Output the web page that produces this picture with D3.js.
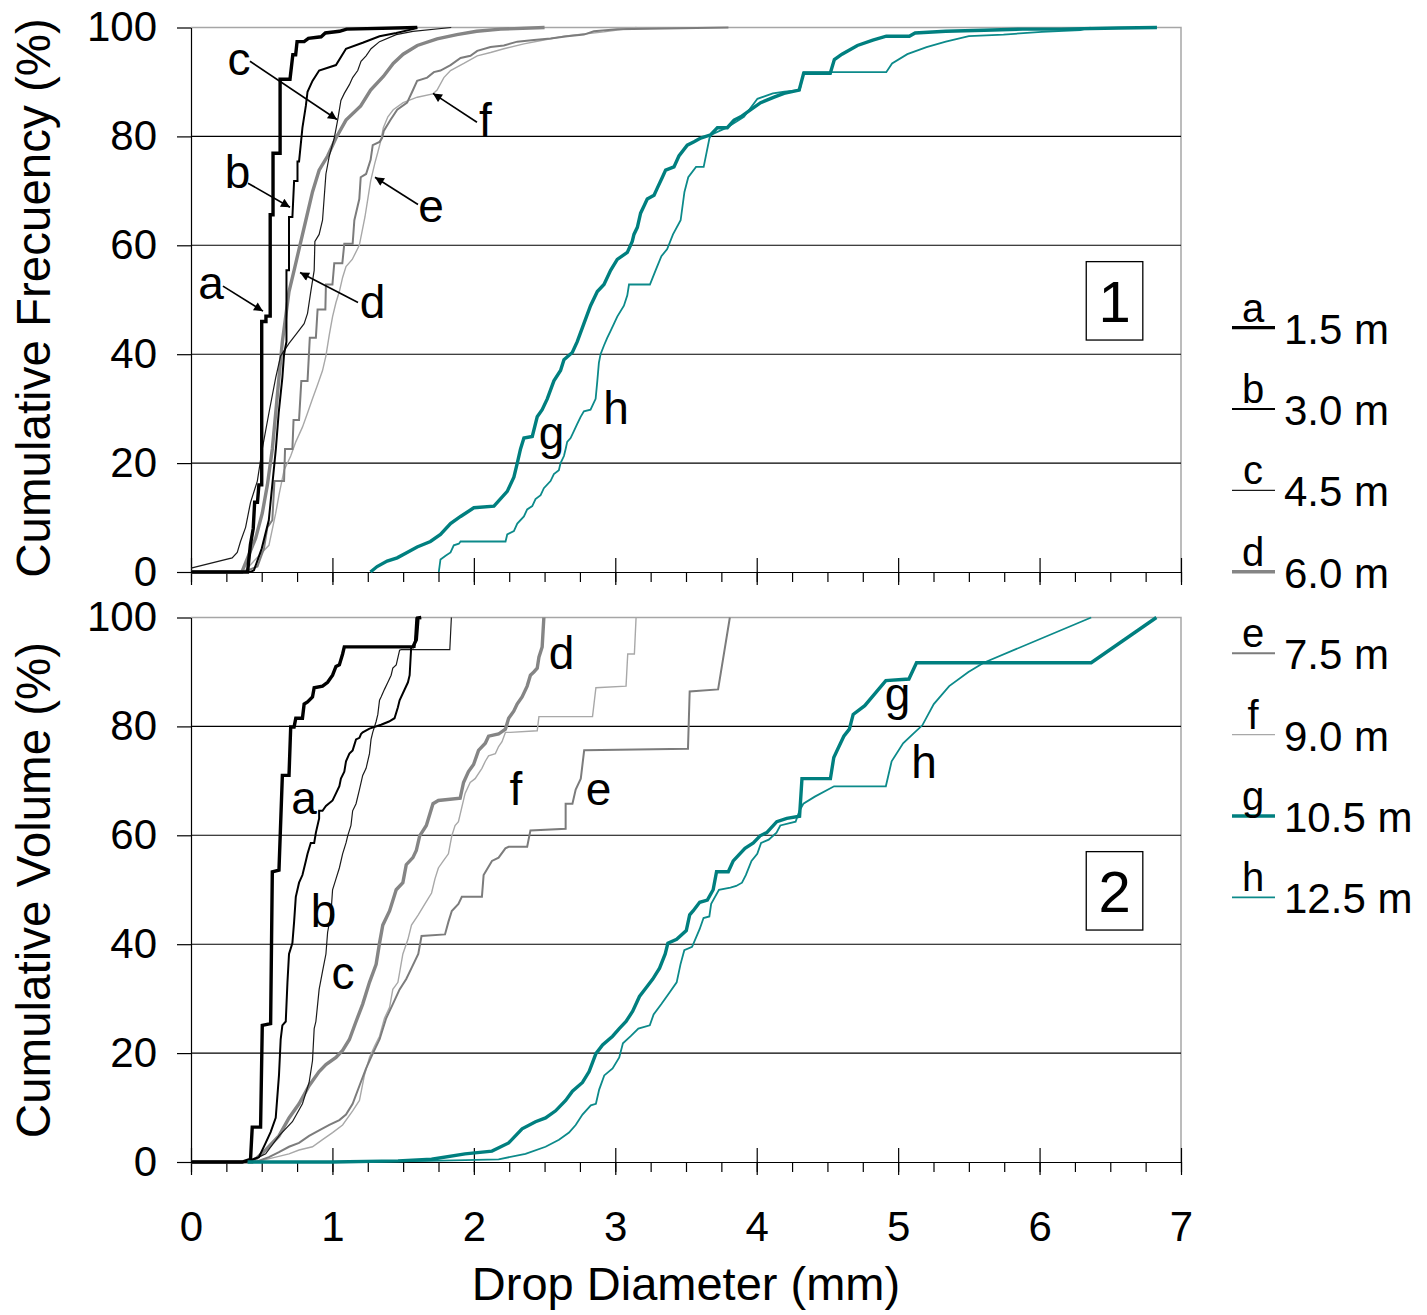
<!DOCTYPE html>
<html><head><meta charset="utf-8">
<script src="https://cdn.jsdelivr.net/npm/d3@7"></script>
<style>html,body{margin:0;padding:0;background:#fff}</style>
</head><body>
<svg id="chart" width="1427" height="1315"></svg>
<script>
// ---------- DATA ----------
const seriesKeys = ["a","b","c","d","e","f","g","h"];
const heightLabels = ["1.5 m","3.0 m","4.5 m","6.0 m","7.5 m","9.0 m","10.5 m","12.5 m"];
const xTicks = [0,1,2,3,4,5,6,7];
const xMinorTicks = d3.range(0, 7.01, 0.25);
const yTicks = [0,20,40,60,80,100];
const panelTitles = ["Cumulative Frecuency (%)","Cumulative Volume (%)"];
const xTitle = "Drop Diameter (mm)";
const panelNumbers = ["1","2"];

// Panel 1: cumulative frequency  [diameter mm, %]
const freqA = [[0,0],[0.40,0],[0.42,5],[0.44,8],[0.45,12.8],[0.47,12.8],[0.48,16],[0.50,16],[0.50,46],[0.53,46],[0.53,47],[0.56,47],[0.56,65.6],[0.58,65.6],[0.58,76.9],[0.63,76.9],[0.63,90.5],[0.70,90.5],[0.72,95],[0.74,95],[0.75,97.4],[0.80,97.4],[0.83,98],[0.92,98.3],[0.95,99],[1.05,99.3],[1.1,99.7],[1.6,100]];
const freqB = [[0,0],[0.42,0],[0.445,0.3],[0.50,4.3],[0.55,9.5],[0.60,22.6],[0.62,29.2],[0.646,35.7],[0.658,40],[0.675,42.3],[0.675,55.4],[0.693,55.4],[0.693,65.2],[0.717,65.2],[0.729,71.8],[0.753,71.8],[0.753,75.4],[0.764,75.4],[0.788,81.6],[0.812,85.6],[0.824,88.2],[0.859,90.2],[0.906,92.1],[1.025,93.1],[1.096,96.1],[1.214,97.2],[1.333,98.4],[1.451,99],[1.569,99.7],[1.6,100]];
const freqC = [[0,0.7],[0.291,2.6],[0.327,3.6],[0.35,5.6],[0.386,8.2],[0.421,12.8],[0.469,16.7],[0.504,22.6],[0.551,29.2],[0.599,35.7],[0.634,39.7],[0.693,42],[0.741,43.6],[0.80,45.6],[0.824,47.5],[0.847,51.5],[0.871,55.4],[0.876,60.7],[0.906,62],[0.93,64.6],[0.954,73.1],[0.978,76.4],[1.013,79.7],[1.037,83],[1.06,86.6],[1.084,87.9],[1.12,89.5],[1.143,90.8],[1.179,92.1],[1.202,93.8],[1.238,94.8],[1.273,96.1],[1.333,97.4],[1.451,98.7],[1.569,99.3],[1.84,100]];
const freqD = [[0,0],[0.36,0],[0.457,6.2],[0.504,10.8],[0.54,16],[0.575,22.6],[0.599,29.2],[0.622,35.7],[0.646,42.3],[0.693,51.5],[0.729,55.4],[0.764,59.3],[0.812,64.6],[0.859,69.8],[0.906,73.8],[0.966,76.4],[1.025,79.7],[1.096,83],[1.2,85.6],[1.27,88.5],[1.36,91],[1.43,93.4],[1.5,95.1],[1.6,96.7],[1.74,97.9],[1.88,98.7],[2.02,99.3],[2.19,99.7],[2.5,100]];
const freqE = [[0,0],[0.374,0],[0.47,1],[0.516,4.3],[0.54,8.2],[0.575,9.5],[0.59,16.7],[0.658,16.7],[0.665,22.6],[0.717,22.6],[0.725,27.9],[0.764,27.9],[0.78,35.1],[0.824,35.1],[0.84,43],[0.883,43],[0.895,48.2],[0.95,48.2],[0.954,52.8],[1.0,52.8],[1.013,56.7],[1.07,56.7],[1.084,60.3],[1.143,60.3],[1.155,64.6],[1.19,68.5],[1.20,72.5],[1.238,73.1],[1.27,75.7],[1.285,78.4],[1.333,79],[1.351,79.7],[1.363,81],[1.41,83],[1.458,84.9],[1.528,86.2],[1.564,88.2],[1.599,90.2],[1.67,90.8],[1.717,91.8],[1.764,92.1],[1.835,93.1],[1.906,94.4],[1.976,94.8],[2.024,95.7],[2.118,96.4],[2.212,96.7],[2.307,97.4],[2.425,97.7],[2.542,98],[2.66,98.4],[2.778,98.7],[2.849,99.3],[3.014,99.7],[3.8,100]];
const freqF = [[0,0],[0.374,0],[0.48,3],[0.551,4.9],[0.599,10.8],[0.622,14.1],[0.658,18.7],[0.705,21.3],[0.741,23.9],[0.788,26.6],[0.824,29.2],[0.859,31.8],[0.895,34.4],[0.93,37],[0.954,39.7],[0.978,43.6],[1.001,46.9],[1.025,49.5],[1.049,51.5],[1.072,54.1],[1.096,56.1],[1.14,57.4],[1.19,60],[1.21,62.6],[1.23,65.2],[1.25,68.5],[1.27,71.8],[1.3,75.1],[1.32,77],[1.34,79],[1.36,81.6],[1.392,83.6],[1.43,84.9],[1.5,86.2],[1.6,87.2],[1.71,87.8],[1.74,88.5],[1.788,90.8],[1.835,92.1],[1.929,93.4],[2.024,94.8],[2.118,95.4],[2.212,96.1],[2.354,97],[2.495,97.7],[2.637,98.4],[2.778,98.8],[2.92,99.2],[3.15,100]];
const freqG = [[1.269,0],[1.316,1],[1.387,2],[1.458,2.6],[1.528,3.6],[1.599,4.6],[1.693,5.6],[1.764,6.9],[1.835,8.9],[1.906,10.2],[2.0,11.8],[2.142,12.1],[2.236,14.8],[2.283,17.4],[2.307,20],[2.33,22.6],[2.354,24.6],[2.413,24.9],[2.448,28.5],[2.483,29.8],[2.519,31.8],[2.566,35.1],[2.613,37],[2.637,39],[2.696,40.3],[2.731,42.3],[2.778,45.6],[2.825,48.9],[2.873,51.5],[2.92,52.8],[2.967,55.4],[3.014,57.4],[3.085,58.7],[3.12,60.7],[3.132,62],[3.156,63.3],[3.179,65.9],[3.203,67.2],[3.226,68.5],[3.274,69.2],[3.297,70.5],[3.333,72.5],[3.356,73.8],[3.415,74.4],[3.45,76.4],[3.509,78.4],[3.557,79],[3.604,79.7],[3.675,80.3],[3.722,81.6],[3.792,81.6],[3.84,83],[3.887,83.6],[3.958,84.9],[4.028,86.2],[4.123,87.2],[4.193,87.9],[4.3,88.5],[4.332,91.6],[4.52,91.6],[4.549,94.1],[4.603,95.1],[4.712,96.7],[4.821,97.7],[4.916,98.4],[5.079,98.4],[5.12,99],[5.337,99.3],[5.609,99.5],[5.88,99.7],[6.152,99.7],[6.56,99.9],[6.83,100]];
const freqH = [[1.752,0],[1.764,2.3],[1.80,3],[1.835,3.6],[1.858,4.9],[1.894,5.2],[1.906,5.6],[2.224,5.6],[2.236,6.9],[2.283,7.5],[2.307,8.9],[2.354,10.2],[2.377,11.5],[2.413,12.1],[2.436,13.4],[2.472,14.1],[2.495,15.4],[2.542,16.7],[2.566,18],[2.601,18.7],[2.613,20],[2.637,21.3],[2.649,22.6],[2.66,23.9],[2.684,24.6],[2.708,25.9],[2.731,27.2],[2.755,28.5],[2.778,29.5],[2.825,29.8],[2.861,31.8],[2.873,35.1],[2.884,38.4],[2.896,40],[2.92,41.6],[2.943,43],[2.967,44.3],[2.991,45.6],[3.014,46.9],[3.061,48.9],[3.085,50.8],[3.097,52.8],[3.245,52.8],[3.285,55.4],[3.326,58],[3.367,59.3],[3.408,62],[3.462,64.6],[3.489,69.8],[3.516,72.5],[3.571,74.4],[3.625,74.4],[3.666,79.7],[3.679,80.3],[3.788,81.6],[3.91,83.6],[4.005,86.9],[4.114,87.9],[4.196,88.2],[4.304,88.5],[4.332,91.8],[4.916,91.8],[4.957,93.4],[5.065,95.1],[5.201,96.4],[5.337,97.4],[5.5,98.4],[5.745,98.7],[6.016,99.2],[6.288,99.5],[6.36,100]];

// Panel 2: cumulative volume  [diameter mm, %]
const volA = [[0,0],[0.362,0],[0.421,0.5],[0.433,6.4],[0.492,6.4],[0.504,25.1],[0.563,25.4],[0.575,53.3],[0.622,53.6],[0.646,71],[0.693,71],[0.705,79.9],[0.729,79.9],[0.741,81.5],[0.788,81.5],[0.80,84.1],[0.824,84.5],[0.859,85.4],[0.871,87.1],[0.93,87.4],[0.966,88.1],[1.001,89.4],[1.025,91],[1.049,91.3],[1.072,93.3],[1.084,94.6],[1.569,94.6],[1.593,95.9],[1.605,99.9],[1.628,100]];
const volB = [[0,0],[0.386,0],[0.48,0.9],[0.528,3.5],[0.563,5.5],[0.599,8.1],[0.622,15.9],[0.634,22.5],[0.646,25.1],[0.67,25.8],[0.682,33],[0.693,38.2],[0.717,40.2],[0.729,44.1],[0.741,48.7],[0.764,51.3],[0.788,52.7],[0.812,55.3],[0.824,56.6],[0.847,58.6],[0.871,58.6],[0.883,60.5],[0.906,63.1],[0.906,64.5],[0.93,64.5],[0.954,65.4],[1.001,66.4],[1.025,67.7],[1.049,69],[1.06,70.4],[1.084,71.7],[1.096,73.6],[1.12,75],[1.143,75.6],[1.155,76.6],[1.167,77.6],[1.191,77.9],[1.202,78.6],[1.214,78.9],[1.262,79.6],[1.333,80.2],[1.344,80.3],[1.40,80.9],[1.439,81.5],[1.463,83.5],[1.475,84.8],[1.534,88.1],[1.546,89.4],[1.557,94.6],[1.581,94.6],[1.593,99.9],[1.60,100]];
const volC = [[0,0],[0.409,0],[0.528,1.5],[0.622,4.8],[0.717,7.4],[0.788,10.7],[0.835,14.6],[0.859,18.6],[0.871,24.5],[0.883,25.8],[0.906,31.7],[0.93,35],[0.954,38.2],[0.966,42.2],[0.989,45.4],[1.001,50],[1.025,52],[1.049,54],[1.072,56.6],[1.096,58.6],[1.108,59.9],[1.131,61.8],[1.143,64.5],[1.167,65.8],[1.191,68.4],[1.214,71],[1.238,72.3],[1.262,75],[1.273,77.6],[1.285,78.9],[1.309,80.9],[1.321,82.2],[1.333,84.8],[1.344,85.4],[1.368,86.8],[1.392,88.1],[1.415,89.4],[1.427,90.7],[1.451,91.3],[1.475,94],[1.486,94.1],[1.83,94.1],[1.841,100]];
const volD = [[0,0],[0.433,0],[0.528,2.2],[0.622,4.8],[0.693,8.1],[0.764,10.7],[0.835,14],[0.906,16.6],[0.954,17.9],[1.025,19.2],[1.072,20.5],[1.12,22.5],[1.167,25.8],[1.214,29],[1.262,33],[1.309,36.3],[1.333,40.2],[1.356,43.5],[1.404,46.1],[1.451,50],[1.498,51.3],[1.522,54.6],[1.569,55.9],[1.593,57.2],[1.617,59.9],[1.664,61.8],[1.711,65.8],[1.749,66.4],[1.903,66.8],[1.927,69.7],[1.962,71.7],[1.998,73],[2.033,75.6],[2.081,76.9],[2.104,78.2],[2.175,78.6],[2.223,79.5],[2.246,81.5],[2.282,82.8],[2.306,84.1],[2.341,85.4],[2.377,87.4],[2.40,89.4],[2.424,90],[2.448,90.7],[2.46,92.7],[2.483,94.6],[2.495,100]];
const volE = [[0,0],[0.457,0],[0.551,0.9],[0.622,1.8],[0.693,2.8],[0.764,3.5],[0.835,4.8],[0.906,5.8],[0.978,6.8],[1.049,7.7],[1.096,8.7],[1.143,10.7],[1.191,14],[1.238,17.2],[1.285,19.9],[1.333,22.5],[1.38,26.4],[1.427,29],[1.475,31.7],[1.522,33.6],[1.559,35.6],[1.607,38.2],[1.63,41.5],[1.796,41.8],[1.82,44.1],[1.844,46.1],[1.891,47.4],[1.915,48.7],[2.057,48.7],[2.069,52.7],[2.128,55.3],[2.175,55.9],[2.223,57.6],[2.246,57.9],[2.377,57.9],[2.40,60.9],[2.649,61.2],[2.649,65.8],[2.697,65.8],[2.72,68.4],[2.756,70.4],[2.78,75.6],[3.514,75.9],[3.526,86.4],[3.727,86.8],[3.81,100]];
const volF = [[0,0],[0.457,0],[0.599,0.9],[0.693,1.5],[0.764,2.2],[0.859,2.8],[0.93,4.1],[1.001,5.4],[1.072,6.8],[1.143,9.4],[1.191,11.3],[1.226,15.9],[1.262,19.2],[1.297,21.2],[1.333,23.1],[1.368,26.4],[1.404,28.4],[1.427,31.7],[1.463,33],[1.498,38.2],[1.534,40.9],[1.559,43.5],[1.607,45.4],[1.654,47.4],[1.701,49.4],[1.725,52],[1.749,54],[1.784,55.3],[1.82,56.6],[1.844,59.9],[1.867,61.8],[1.891,62.5],[1.938,67.7],[1.974,69.7],[2.009,70.4],[2.057,72.3],[2.081,73.6],[2.104,74.6],[2.152,75],[2.175,76.3],[2.199,77.2],[2.223,78.9],[2.258,78.9],[2.448,79.2],[2.46,81.8],[2.839,81.8],[2.863,87.1],[3.076,87.4],[3.088,93.3],[3.135,93.3],[3.147,100]];
const volG = [[0.40,0],[1.0,0],[1.464,0.2],[1.701,0.5],[1.938,1.5],[2.128,2],[2.246,3.5],[2.341,6.1],[2.436,7.4],[2.507,8.1],[2.578,9.4],[2.649,11.3],[2.697,13],[2.768,14.6],[2.815,16.6],[2.863,19.9],[2.91,21.5],[2.981,23.1],[3.028,24.5],[3.076,25.8],[3.123,27.7],[3.171,30.4],[3.218,32],[3.265,33.6],[3.313,35.6],[3.353,38.2],[3.372,40.2],[3.434,40.9],[3.502,42.5],[3.526,45.4],[3.55,46.1],[3.597,47.7],[3.651,48.1],[3.692,50],[3.716,53.3],[3.799,53.3],[3.834,55.3],[3.917,57.6],[3.976,58.6],[4.024,59.9],[4.071,60.5],[4.142,62.5],[4.213,63.1],[4.303,63.5],[4.32,70.4],[4.521,70.4],[4.545,74.3],[4.569,75.6],[4.616,78.2],[4.655,79.5],[4.682,82.2],[4.764,83.8],[4.913,88.4],[5.076,88.7],[5.13,91.7],[6.365,91.7],[6.826,100]];
const volH = [[1.0,0],[1.701,0.2],[2.175,0.5],[2.365,1.5],[2.507,2.8],[2.602,4.1],[2.673,5.4],[2.72,6.8],[2.768,8.7],[2.827,10.4],[2.863,10.7],[2.886,13.3],[2.922,15.9],[2.981,17.2],[3.028,19.2],[3.054,21.8],[3.109,23.1],[3.163,24.5],[3.244,25.1],[3.271,27.1],[3.326,29],[3.38,31],[3.434,33],[3.461,36.3],[3.488,38.9],[3.543,39.5],[3.597,42.8],[3.624,44.8],[3.665,45.1],[3.678,47.4],[3.733,50],[3.814,50.4],[3.855,50.7],[3.896,51.3],[3.923,52.7],[3.963,55.3],[4.004,56.6],[4.031,58.6],[4.085,59.2],[4.14,60.5],[4.167,61.8],[4.275,62.5],[4.302,64.5],[4.33,65.8],[4.411,67.1],[4.547,69],[4.913,69],[4.954,73.6],[5.035,76.9],[5.117,78.9],[5.171,80.2],[5.252,84.1],[5.361,87.4],[5.497,90],[5.605,91.7],[6.365,100]];

const freqSeries = [freqA,freqB,freqC,freqD,freqE,freqF,freqG,freqH];
const volSeries  = [volA,volB,volC,volD,volE,volF,volG,volH];

// ---------- STYLES / LAYOUT ----------
const FONT = "'Liberation Sans', Arial, Helvetica, sans-serif";
const styles = {
  a:{c:"#000000", w:3.4}, b:{c:"#000000", w:2.0}, c:{c:"#1a1a1a", w:1.2},
  d:{c:"#858585", w:3.4}, e:{c:"#7c7c7c", w:2.0}, f:{c:"#a8a8a8", w:1.4},
  g:{c:"#007f7f", w:3.4}, h:{c:"#0c8a8a", w:1.8}
};
const drawOrder = ["f","e","d","c","b","a","h","g"];

const svg = d3.select("#chart");
const x = d3.scaleLinear().domain([0,7]).range([191,1181]);
const panels = [
  {y: d3.scaleLinear().domain([0,100]).range([572,27.5]), data: freqSeries, title: panelTitles[0], num: panelNumbers[0], titleY: 298},
  {y: d3.scaleLinear().domain([0,100]).range([1162,617.5]), data: volSeries, title: panelTitles[1], num: panelNumbers[1], titleY: 890}
];

// annotations [letter, textX(mm), baselineY(%), arrowFrom, arrowTo]
const annTop = [
  ["a",0.141,50.1,[0.226,52.5],[0.509,47.9]],
  ["b",0.329,70.5,[0.403,71.4],[0.70,67]],
  ["c",0.339,91.2,[0.417,93.8],[1.032,83.1]],
  ["d",1.283,46.6,[1.181,49.5],[0.771,55]],
  ["e",1.697,64.2,[1.605,67.5],[1.301,72.5]],
  ["f",2.082,80.0,[2.022,82.6],[1.711,87.9]],
  ["g",2.549,22.6,null,null],
  ["h",3.005,27.2,null,null]
];
const annBot = [
  ["a",0.799,63.9,null,null],
  ["b",0.937,43.1,null,null],
  ["c",1.075,31.7,null,null],
  ["d",2.62,90.6,null,null],
  ["f",2.298,65.5,null,null],
  ["e",2.881,65.5,null,null],
  ["g",4.995,83.1,null,null],
  ["h",5.183,70.6,null,null]
];

const defs = svg.append("defs");
defs.append("marker").attr("id","arr").attr("viewBox","0 0 10 10").attr("refX",10).attr("refY",5)
  .attr("markerWidth",11).attr("markerHeight",9).attr("markerUnits","userSpaceOnUse").attr("orient","auto")
  .append("path").attr("d","M0,0 L10,5 L0,10 Z").attr("fill","#000");

panels.forEach((p, pi) => {
  const y = p.y;
  const g = svg.append("g");
  const clipId = "clip"+pi;
  defs.append("clipPath").attr("id",clipId).append("rect")
    .attr("x",x(0)-2).attr("y",y(100)-3).attr("width",x(7)-x(0)+4).attr("height",y(0)-y(100)+5);

  g.append("path").attr("d",`M${x(0)},${y(100)}H${x(7)}V${y(0)}`).attr("fill","none").attr("stroke","#a6a6a6").attr("stroke-width",1.5);
  g.selectAll(".grid").data([20,40,60,80]).join("line")
    .attr("x1",x(0)).attr("x2",x(7)).attr("y1",d=>y(d)).attr("y2",d=>y(d))
    .attr("stroke","#000").attr("stroke-width",1.1);

  const ya = g.append("g").attr("transform",`translate(${x(0)},0)`)
    .call(d3.axisLeft(y).tickValues(yTicks).tickSize(14).tickSizeOuter(0).tickPadding(20));
  ya.attr("font-family",FONT).attr("font-size",42);
  ya.selectAll("text").attr("fill","#000");
  ya.selectAll("line,path").attr("stroke","#000").attr("stroke-width",1.2);

  const xm = g.append("g").attr("transform",`translate(0,${y(0)})`)
    .call(d3.axisBottom(x).tickValues(xMinorTicks).tickSize(10).tickSizeOuter(0).tickFormat(""));
  xm.selectAll("line,path").attr("stroke","#000").attr("stroke-width",1.2);
  const xM = g.append("g").attr("transform",`translate(0,${y(0)})`)
    .call(d3.axisBottom(x).tickValues(xTicks).tickSize(13).tickSizeOuter(0).tickPadding(36)
      .tickFormat(pi===1 ? d3.format("d") : ""));
  xM.attr("font-family",FONT).attr("font-size",42);
  xM.selectAll("text").attr("fill","#000");
  xM.selectAll("line,path").attr("stroke","#000").attr("stroke-width",1.2);
  const xU = g.append("g").attr("transform",`translate(0,${y(0)})`)
    .call(d3.axisTop(x).tickValues(xTicks).tickSize(14).tickSizeOuter(0).tickFormat(""));
  xU.select("path").remove();
  xU.selectAll("line").attr("stroke","#000").attr("stroke-width",1.2);

  const line = d3.line().x(d=>x(d[0])).y(d=>y(d[1]));
  const lg = g.append("g").attr("clip-path",`url(#${clipId})`);
  drawOrder.forEach(k => {
    const i = seriesKeys.indexOf(k);
    lg.append("path").datum(p.data[i]).attr("d",line)
      .attr("fill","none").attr("stroke",styles[k].c).attr("stroke-width",styles[k].w)
      .attr("stroke-linejoin","miter").attr("stroke-linecap","butt");
  });

  const anns = pi===0 ? annTop : annBot;
  anns.forEach(a => {
    g.append("text").attr("x",x(a[1])).attr("y",y(a[2])).attr("text-anchor","middle")
      .attr("font-family",FONT).attr("font-size",46).attr("fill","#000").text(a[0]);
    if (a[3]) {
      g.append("line").attr("x1",x(a[3][0])).attr("y1",y(a[3][1])).attr("x2",x(a[4][0])).attr("y2",y(a[4][1]))
        .attr("stroke","#000").attr("stroke-width",1.6).attr("marker-end","url(#arr)");
    }
  });

  const bx0 = x(6.33), bx1 = x(6.73), by0 = y(57), by1 = y(42.6);
  g.append("rect").attr("x",bx0).attr("y",by0).attr("width",bx1-bx0).attr("height",by1-by0)
    .attr("fill","#fff").attr("stroke","#000").attr("stroke-width",1.3);
  g.append("text").attr("x",(bx0+bx1)/2).attr("y",(by0+by1)/2+21).attr("text-anchor","middle")
    .attr("font-family",FONT).attr("font-size",58).attr("fill","#000").text(p.num);

  g.append("text").attr("transform",`translate(50,${p.titleY}) rotate(-90)`).attr("text-anchor","middle")
    .attr("font-family",FONT).attr("font-size",47.5).attr("fill","#000").text(p.title);
});

svg.append("text").attr("x",686).attr("y",1300).attr("text-anchor","middle")
  .attr("font-family",FONT).attr("font-size",47).attr("fill","#000").text(xTitle);

const leg = svg.append("g");
seriesKeys.forEach((k,i) => {
  const ly = 327.6 + i*81.4;
  leg.append("line").attr("x1",1232).attr("x2",1275).attr("y1",ly).attr("y2",ly)
    .attr("stroke",styles[k].c).attr("stroke-width",styles[k].w);
  leg.append("text").attr("x",1253).attr("y",ly-6).attr("text-anchor","middle")
    .attr("font-family",FONT).attr("font-size",40).attr("fill","#000").text(k);
  leg.append("text").attr("x",1284).attr("y",ly+16)
    .attr("font-family",FONT).attr("font-size",42).attr("fill","#000").text(heightLabels[i]);
});
</script>
</body></html>
